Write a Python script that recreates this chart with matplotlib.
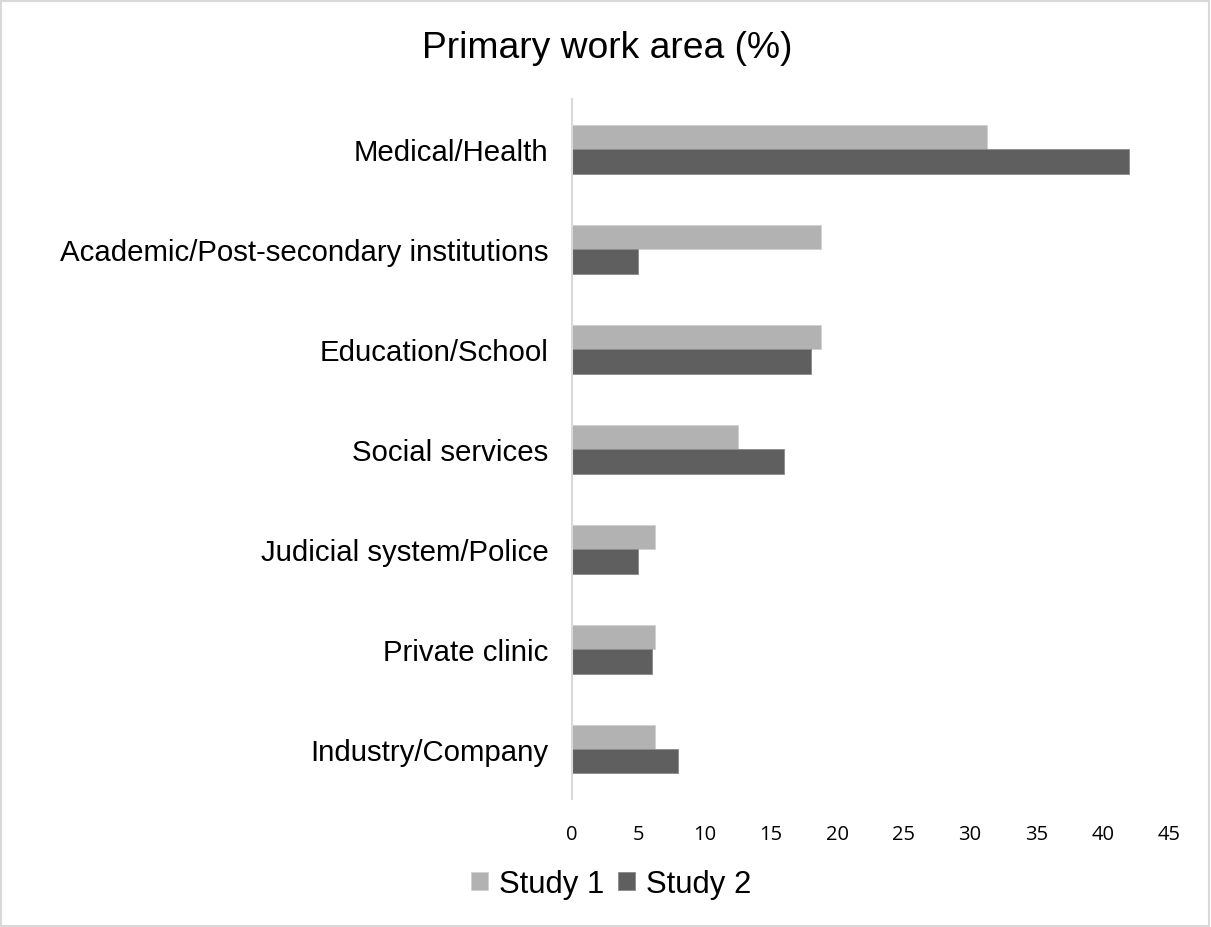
import matplotlib
matplotlib.use("Agg")
import matplotlib.pyplot as plt
import numpy as np
from matplotlib.patches import Rectangle

categories = [
    "Medical/Health",
    "Academic/Post-secondary institutions",
    "Education/School",
    "Social services",
    "Judicial system/Police",
    "Private clinic",
    "Industry/Company",
]
study1 = [31.25, 18.75, 18.75, 12.5, 6.25, 6.25, 6.25]
study2 = [42, 5, 18, 16, 5, 6, 8]
series_names = ["Study 1", "Study 2"]
x_ticks = [0, 5, 10, 15, 20, 25, 30, 35, 40, 45]

plt.rcParams["font.family"] = ["Liberation Sans", "DejaVu Sans"]

fig = plt.figure(figsize=(12.11, 9.28), dpi=100)
ax = fig.add_axes([572 / 1211, 1 - 800 / 928, 597 / 1211, 700 / 928])

y = np.arange(len(categories))
h = 0.245
c1, c2 = "#b2b2b2", "#5f5f5f"
b1 = ax.barh(y - h / 2, study1, height=h, color=c1, edgecolor="#d0d0d0", linewidth=0.6, label=series_names[0])
b2 = ax.barh(y + h / 2, study2, height=h, color=c2, edgecolor="#8a8a8a", linewidth=0.6, label=series_names[1])

ax.set_xlim(0, 45)
ax.set_ylim(len(categories) - 0.5, -0.5)
ax.set_xticks(x_ticks)
ax.set_xticklabels([str(t) for t in x_ticks], fontsize=14.5, family=["Open Sans", "DejaVu Sans"])
ax.set_yticks(y)
ax.set_yticklabels(categories, fontsize=21.2)
ax.tick_params(axis="x", length=0, pad=18)
ax.tick_params(axis="y", length=0, pad=17)
for side in ["top", "right", "bottom"]:
    ax.spines[side].set_visible(False)
ax.spines["left"].set_color("#d9d9d9")
ax.spines["left"].set_linewidth(1.5)

fig.text(607 / 1211, 1 - 48 / 928, "Primary work area (%)", ha="center", va="center", fontsize=26.8)

fig.legend(handles=[b1, b2], labels=series_names, loc="center", bbox_to_anchor=(611 / 1211, 1 - 885 / 928),
           ncol=2, frameon=False, fontsize=22.4, handlelength=0.55, handleheight=0.55,
           handletextpad=0.35, columnspacing=0.45)

fig.patches.append(Rectangle((0.001, 0.001), 0.997, 0.997, transform=fig.transFigure,
                             fill=False, edgecolor="#d9d9d9", linewidth=1.5))

fig.savefig("out.png", dpi=100, facecolor="white")
